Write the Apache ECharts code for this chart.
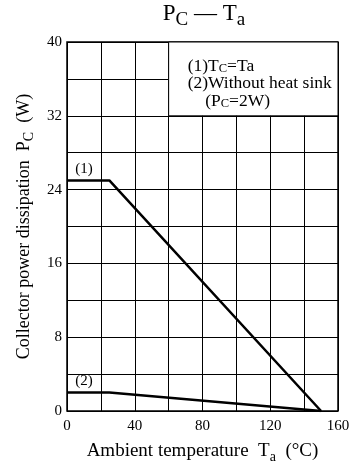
<!DOCTYPE html>
<html><head><meta charset="utf-8">
<script src="https://cdn.jsdelivr.net/npm/echarts@6/dist/echarts.min.js"></script>
<style>html,body{margin:0;padding:0;background:#fff}#c{width:352px;height:470px}</style>
</head><body><div id="c"></div>
<script>
const curve1 = [[0, 25], [25, 25], [150, 0]];
const curve2 = [[0, 2], [25, 2], [150, 0]];
const xTicks = [0, 40, 80, 120, 160];
const yTicks = [0, 8, 16, 24, 32, 40];
const curveLabels = ['(1)', '(2)'];
const noteLines = ['{m|(1)T}{s|C}{m|=Ta}', '{m|(2)Without heat sink}', '{m|    (P}{s|C}{m|=2W)}'];

const F = '"Liberation Serif","Times New Roman",serif';
const mainSt = (size, lh) => ({ fontFamily: F, fontSize: size, lineHeight: lh || size, verticalAlign: 'top', color: '#000' });
const subSt = (size, pad) => ({ fontFamily: F, fontSize: size, lineHeight: size, verticalAlign: 'top', padding: [pad, 0, 0, 0], color: '#000' });
const chart = echarts.init(document.getElementById('c'));
chart.setOption({
  animation: false,
  title: {
    text: '{m|P}{s|C}{m| — T}{s|a}', left: 204, top: 2, padding: 0, textAlign: 'center',
    textStyle: { fontFamily: F, fontSize: 23, fontWeight: 'normal', color: '#000',
      rich: { m: mainSt(23), s: subSt(19, 9) } }
  },
  grid: { left: 67, right: 14, top: 42, bottom: 59, show: true, borderColor: '#000', borderWidth: 1.5,
    outerBoundsMode: 'none', containLabel: false },
  xAxis: {
    type: 'value', min: 0, max: 160, interval: 20,
    axisLine: { show: false }, axisTick: { show: false },
    splitLine: { show: true, lineStyle: { color: '#000', width: 1 } },
    axisLabel: { fontFamily: F, fontSize: 15, color: '#000', margin: 8,
      formatter: v => xTicks.includes(v) ? String(v) : '' },
    name: '{m|Ambient temperature  T}{s|a}{m|  (°C)}', nameLocation: 'middle', nameGap: 31,
    nameTextStyle: { fontFamily: F, fontSize: 19, color: '#000', rich: { m: mainSt(19), s: subSt(14, 8) } }
  },
  yAxis: {
    type: 'value', min: 0, max: 40, interval: 4,
    axisLine: { show: false }, axisTick: { show: false },
    splitLine: { show: true, lineStyle: { color: '#000', width: 1 } },
    axisLabel: { fontFamily: F, fontSize: 15, color: '#000', margin: 5,
      formatter: v => yTicks.includes(v) ? String(v) : '' },
    name: '{m|Collector power dissipation  P}{s|C}{m|  (W)}', nameLocation: 'middle', nameGap: 32,
    nameTextStyle: { fontFamily: F, fontSize: 18, color: '#000', rich: { m: mainSt(18), s: subSt(14, 7) } }
  },
  series: [
    {
      type: 'line', data: curve1, symbol: 'none',
      lineStyle: { color: '#000', width: 2.5 },
      markArea: {
        silent: true,
        itemStyle: { color: '#fff', borderColor: '#000', borderWidth: 1 },
        label: { show: false },
        data: [[{ coord: [60, 32] }, { coord: [160, 40] }]]
      },
      markPoint: {
        symbol: 'circle', symbolSize: 0, silent: true,
        data: [
          { coord: [10, 25], label: { show: true, formatter: curveLabels[0], position: 'top', distance: 4,
              fontFamily: F, fontSize: 15, color: '#000' } },
          { coord: [60, 40], label: { show: true, formatter: noteLines.join('\n'), position: [19, 15],
              align: 'left', verticalAlign: 'top',
              fontFamily: F, fontSize: 17.5, color: '#000',
              rich: { m: mainSt(17.5, 17.5), s: subSt(12.5, 5) } } }
        ]
      }
    },
    {
      type: 'line', data: curve2, symbol: 'none',
      lineStyle: { color: '#000', width: 2.5 },
      markPoint: {
        symbol: 'circle', symbolSize: 0, silent: true,
        label: { show: true, formatter: curveLabels[1], position: 'top', distance: 4, fontFamily: F, fontSize: 15, color: '#000' },
        data: [{ coord: [10, 2] }]
      }
    }
  ]
});
</script></body></html>
